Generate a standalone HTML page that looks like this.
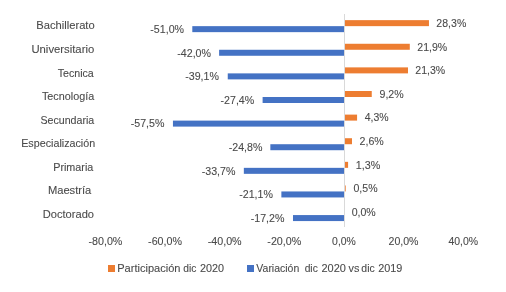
<!DOCTYPE html>
<html><head><meta charset="utf-8"><style>
html,body{margin:0;padding:0;background:#fff;width:506px;height:292px;overflow:hidden}
svg{display:block}
text{font-family:"Liberation Sans",sans-serif}
</style></head><body>
<svg width="506" height="292" viewBox="0 0 506 292" font-family="Liberation Sans, sans-serif">
<rect width="506" height="292" fill="#fff"/>
<rect x="344.20" y="20.15" width="84.76" height="6.0" fill="#ED7D31"/>
<rect x="192.30" y="26.15" width="152.30" height="6.0" fill="#4472C4"/>
<rect x="344.20" y="43.77" width="65.59" height="6.0" fill="#ED7D31"/>
<rect x="219.11" y="49.77" width="125.49" height="6.0" fill="#4472C4"/>
<rect x="344.20" y="67.38" width="63.79" height="6.0" fill="#ED7D31"/>
<rect x="227.75" y="73.38" width="116.85" height="6.0" fill="#4472C4"/>
<rect x="344.20" y="91.00" width="27.55" height="6.0" fill="#ED7D31"/>
<rect x="262.61" y="97.00" width="81.99" height="6.0" fill="#4472C4"/>
<rect x="344.20" y="114.61" width="12.88" height="6.0" fill="#ED7D31"/>
<rect x="172.94" y="120.61" width="171.66" height="6.0" fill="#4472C4"/>
<rect x="344.20" y="138.22" width="7.79" height="6.0" fill="#ED7D31"/>
<rect x="270.35" y="144.22" width="74.25" height="6.0" fill="#4472C4"/>
<rect x="344.20" y="161.84" width="3.89" height="6.0" fill="#ED7D31"/>
<rect x="243.84" y="167.84" width="100.76" height="6.0" fill="#4472C4"/>
<rect x="344.20" y="185.45" width="1.50" height="6.0" fill="#ED7D31"/>
<rect x="281.37" y="191.45" width="63.23" height="6.0" fill="#4472C4"/>
<rect x="292.99" y="215.07" width="51.61" height="6.0" fill="#4472C4"/>
<rect x="344" y="14" width="1" height="213" fill="#D9D9D9"/>
<rect x="108" y="265" width="7" height="7" fill="#ED7D31"/>
<rect x="247" y="265" width="7" height="7" fill="#4472C4"/>
<g style="filter:grayscale(1)">
<text transform="translate(36.28,28.90) scale(1.0176,1)" font-size="11.0" fill="#4a4a4a" stroke="#4a4a4a" stroke-width="0.1">Bachillerato</text>
<text transform="translate(31.43,53.20) scale(1.0281,1)" font-size="11.0" fill="#4a4a4a" stroke="#4a4a4a" stroke-width="0.1">Universitario</text>
<text transform="translate(57.67,76.70) scale(0.9690,1)" font-size="11.0" fill="#4a4a4a" stroke="#4a4a4a" stroke-width="0.1">Tecnica</text>
<text transform="translate(41.96,99.70) scale(0.9827,1)" font-size="11.0" fill="#4a4a4a" stroke="#4a4a4a" stroke-width="0.1">Tecnología</text>
<text transform="translate(40.41,123.60) scale(0.9675,1)" font-size="11.0" fill="#4a4a4a" stroke="#4a4a4a" stroke-width="0.1">Secundaria</text>
<text transform="translate(21.22,147.25) scale(0.9758,1)" font-size="11.0" fill="#4a4a4a" stroke="#4a4a4a" stroke-width="0.1">Especialización</text>
<text transform="translate(53.21,170.90) scale(0.9812,1)" font-size="11.0" fill="#4a4a4a" stroke="#4a4a4a" stroke-width="0.1">Primaria</text>
<text transform="translate(47.88,193.80) scale(1.0170,1)" font-size="11.0" fill="#4a4a4a" stroke="#4a4a4a" stroke-width="0.1">Maestría</text>
<text transform="translate(42.79,217.80) scale(1.0103,1)" font-size="11.0" fill="#4a4a4a" stroke="#4a4a4a" stroke-width="0.1">Doctorado</text>
<text transform="translate(150.33,33.00) scale(0.9682,1)" font-size="11.0" fill="#4a4a4a" stroke="#4a4a4a" stroke-width="0.1">-51,0%</text>
<text transform="translate(436.37,26.90) scale(0.9587,1)" font-size="11.0" fill="#4a4a4a" stroke="#4a4a4a" stroke-width="0.1">28,3%</text>
<text transform="translate(177.28,56.60) scale(0.9682,1)" font-size="11.0" fill="#4a4a4a" stroke="#4a4a4a" stroke-width="0.1">-42,0%</text>
<text transform="translate(417.27,50.50) scale(0.9587,1)" font-size="11.0" fill="#4a4a4a" stroke="#4a4a4a" stroke-width="0.1">21,9%</text>
<text transform="translate(185.23,80.20) scale(0.9682,1)" font-size="11.0" fill="#4a4a4a" stroke="#4a4a4a" stroke-width="0.1">-39,1%</text>
<text transform="translate(415.27,74.10) scale(0.9587,1)" font-size="11.0" fill="#4a4a4a" stroke="#4a4a4a" stroke-width="0.1">21,3%</text>
<text transform="translate(220.53,103.80) scale(0.9682,1)" font-size="11.0" fill="#4a4a4a" stroke="#4a4a4a" stroke-width="0.1">-27,4%</text>
<text transform="translate(379.50,97.70) scale(0.9641,1)" font-size="11.0" fill="#4a4a4a" stroke="#4a4a4a" stroke-width="0.1">9,2%</text>
<text transform="translate(130.73,127.40) scale(0.9682,1)" font-size="11.0" fill="#4a4a4a" stroke="#4a4a4a" stroke-width="0.1">-57,5%</text>
<text transform="translate(364.66,121.30) scale(0.9537,1)" font-size="11.0" fill="#4a4a4a" stroke="#4a4a4a" stroke-width="0.1">4,3%</text>
<text transform="translate(228.73,151.00) scale(0.9682,1)" font-size="11.0" fill="#4a4a4a" stroke="#4a4a4a" stroke-width="0.1">-24,8%</text>
<text transform="translate(359.57,144.90) scale(0.9654,1)" font-size="11.0" fill="#4a4a4a" stroke="#4a4a4a" stroke-width="0.1">2,6%</text>
<text transform="translate(201.69,174.60) scale(0.9682,1)" font-size="11.0" fill="#4a4a4a" stroke="#4a4a4a" stroke-width="0.1">-33,7%</text>
<text transform="translate(355.78,168.50) scale(0.9770,1)" font-size="11.0" fill="#4a4a4a" stroke="#4a4a4a" stroke-width="0.1">1,3%</text>
<text transform="translate(239.23,198.20) scale(0.9682,1)" font-size="11.0" fill="#4a4a4a" stroke="#4a4a4a" stroke-width="0.1">-21,1%</text>
<text transform="translate(353.49,192.10) scale(0.9606,1)" font-size="11.0" fill="#4a4a4a" stroke="#4a4a4a" stroke-width="0.1">0,5%</text>
<text transform="translate(250.73,221.80) scale(0.9682,1)" font-size="11.0" fill="#4a4a4a" stroke="#4a4a4a" stroke-width="0.1">-17,2%</text>
<text transform="translate(351.69,215.70) scale(0.9606,1)" font-size="11.0" fill="#4a4a4a" stroke="#4a4a4a" stroke-width="0.1">0,0%</text>
<text transform="translate(88.46,244.60) scale(0.9741,1)" font-size="11.0" fill="#4a4a4a" stroke="#4a4a4a" stroke-width="0.1">-80,0%</text>
<text transform="translate(148.09,244.60) scale(0.9741,1)" font-size="11.0" fill="#4a4a4a" stroke="#4a4a4a" stroke-width="0.1">-60,0%</text>
<text transform="translate(207.72,244.60) scale(0.9741,1)" font-size="11.0" fill="#4a4a4a" stroke="#4a4a4a" stroke-width="0.1">-40,0%</text>
<text transform="translate(267.35,244.60) scale(0.9741,1)" font-size="11.0" fill="#4a4a4a" stroke="#4a4a4a" stroke-width="0.1">-20,0%</text>
<text transform="translate(332.09,244.60) scale(0.9483,1)" font-size="11.0" fill="#4a4a4a" stroke="#4a4a4a" stroke-width="0.1">0,0%</text>
<text transform="translate(388.55,244.60) scale(0.9620,1)" font-size="11.0" fill="#4a4a4a" stroke="#4a4a4a" stroke-width="0.1">20,0%</text>
<text transform="translate(448.47,244.60) scale(0.9526,1)" font-size="11.0" fill="#4a4a4a" stroke="#4a4a4a" stroke-width="0.1">40,0%</text>
<text transform="translate(117.19,271.80) scale(1.0056,1)" font-size="11.0" fill="#4a4a4a" stroke="#4a4a4a" stroke-width="0.1">Participación</text>
<text transform="translate(183.27,271.80) scale(0.9316,1)" font-size="11.0" fill="#4a4a4a" stroke="#4a4a4a" stroke-width="0.1">dic</text>
<text transform="translate(200.06,271.80) scale(0.9836,1)" font-size="11.0" fill="#4a4a4a" stroke="#4a4a4a" stroke-width="0.1">2020</text>
<text transform="translate(256.35,271.90) scale(0.9531,1)" font-size="11.0" fill="#4a4a4a" stroke="#4a4a4a" stroke-width="0.1">Variación</text>
<text transform="translate(304.67,271.90) scale(0.9316,1)" font-size="11.0" fill="#4a4a4a" stroke="#4a4a4a" stroke-width="0.1">dic</text>
<text transform="translate(321.45,271.90) scale(0.9964,1)" font-size="11.0" fill="#4a4a4a" stroke="#4a4a4a" stroke-width="0.1">2020</text>
<text transform="translate(348.56,271.90) scale(0.9848,1)" font-size="11.0" fill="#4a4a4a" stroke="#4a4a4a" stroke-width="0.1">vs</text>
<text transform="translate(361.36,271.90) scale(0.9467,1)" font-size="11.0" fill="#4a4a4a" stroke="#4a4a4a" stroke-width="0.1">dic</text>
<text transform="translate(378.26,271.90) scale(0.9873,1)" font-size="11.0" fill="#4a4a4a" stroke="#4a4a4a" stroke-width="0.1">2019</text>
</g>
</svg>
</body></html>
